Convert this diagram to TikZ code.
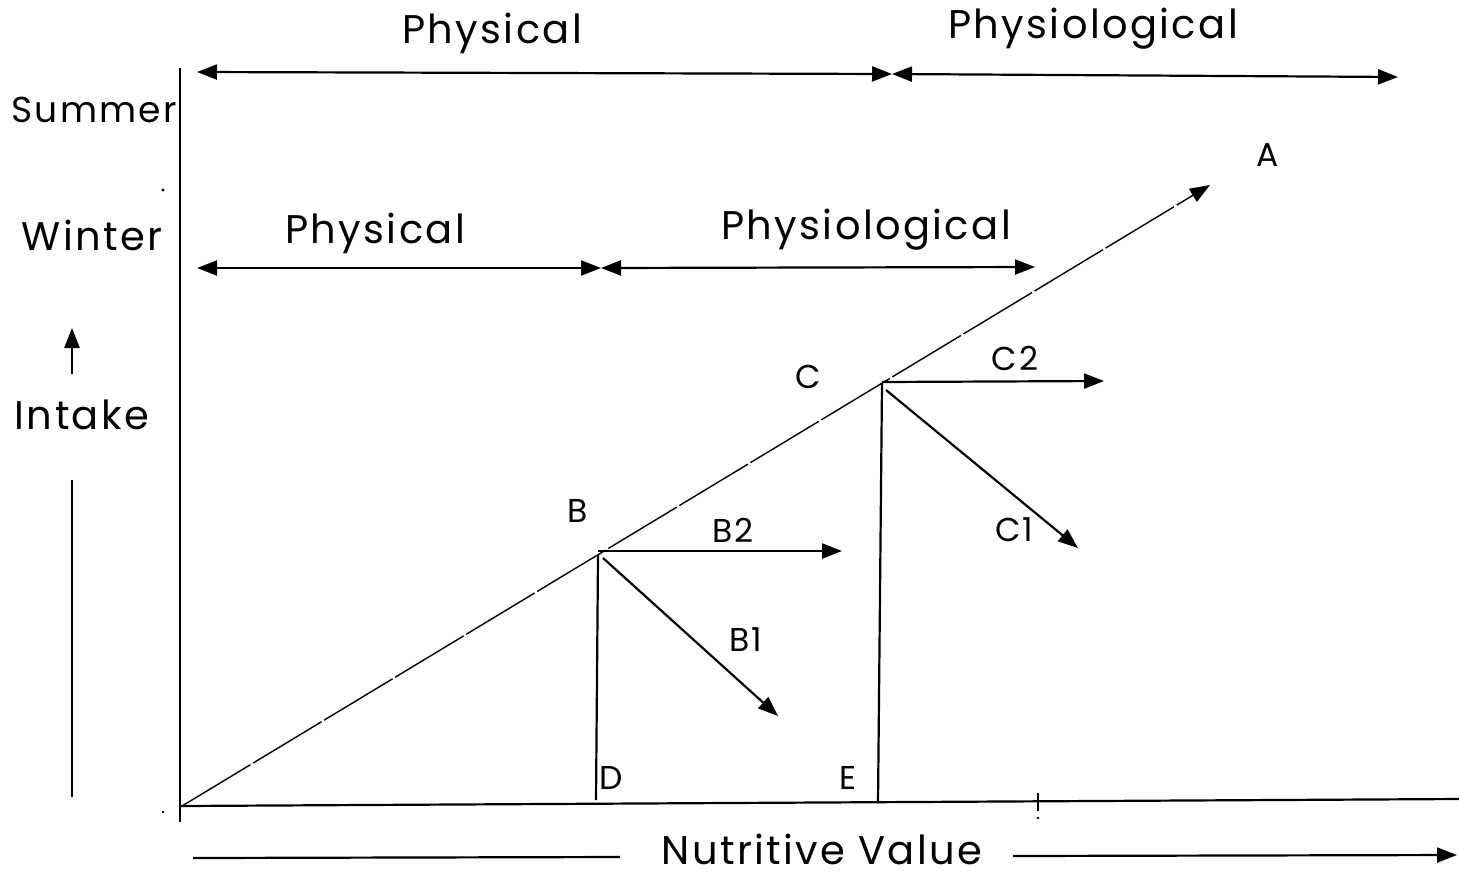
\documentclass[tikz,border=0pt]{standalone}
\usepackage{fontspec}
\setmainfont{Poppins}[LetterSpace=6]
\usetikzlibrary{arrows.meta}
\begin{document}
\begin{tikzpicture}[x=0.5pt,y=-0.5pt,
  ln/.style={line width=1.1pt,black},
  thin/.style={line width=0.7pt,black},
  tip/.tip={Triangle[length=10pt,width=7.5pt]},
  arr/.style={ln,-tip},
  darr/.style={ln,tip-tip},
  word/.style={font=\fontsize{20}{24}\selectfont,inner sep=0pt},
  lab/.style={font=\fontsize{16.5}{20}\selectfont,inner sep=0pt}]
\useasboundingbox (0,0) rectangle (1459,873);
% coordinates
\coordinate (O) at (182,806);
\coordinate (Atip) at (1210,185);
\coordinate (Bp) at (598,555);
\coordinate (Cp) at (882,383);
\coordinate (Dp) at (596,800);
\coordinate (Ep) at (878,803);
\coordinate (B2e) at (842,551);
\coordinate (B1e) at (778,716);
\coordinate (C2e) at (1104,381);
\coordinate (C1e) at (1078,548);
\coordinate (SL) at (197,72);
\coordinate (SM) at (892,74);
\coordinate (SR) at (1398,77);
\coordinate (WL) at (197,268);
\coordinate (WM) at (601,268);
\coordinate (WR) at (1035,267);
\coordinate (Ytop) at (180,68);
\coordinate (Ybot) at (180,822);
\coordinate (Xl) at (180,806);
\coordinate (Xr) at (1459,799);
\coordinate (Iup0) at (72,374);
\coordinate (Iup1) at (72,328);
\coordinate (Iln0) at (72,480);
\coordinate (Iln1) at (72,797);
\coordinate (N0) at (193,858);
\coordinate (N1) at (620,857);
\coordinate (N2) at (1013,856);
\coordinate (N3) at (1457,855);
\coordinate (T0) at (1038,793);
\coordinate (T1) at (1038,811);
% axes
\draw[ln] (Ytop) -- (Ybot);
\draw[ln] (Xl) -- (Xr);
\draw[ln] (T0) -- (T1);
\fill (1038,818) circle (1.4);
\fill (163,190) circle (1.6);
\fill (163,812) circle (1.4);
% texts
\node[word] (phys1) at (492,33) {Physical};
\node[word] (physio1) at (1093,29) {Physiological};
\node[word,font=\fontsize{18}{22}\selectfont] (summer) at (94,110) {Summer};
\node[word] (winter) at (92,235) {Winter};
\node[word] (phys2) at (375,233) {Physical};
\node[word] (physio2) at (866,230) {Physiological};
\node[word] (intake) at (82,415) {Intake};
\node[word] (nutr) at (822,849) {Nutritive Value};
\node[lab] (lA) at (1268,155) {A};
\node[lab] (lB) at (578,511) {B};
\node[lab] (lC) at (808,377) {C};
\node[lab] (lD) at (611,778) {D};
\node[lab] (lE) at (848,778) {E};
\node[lab] (lB2) at (733,530) {B2};
\node[lab] (lB1) at (746,640) {B1};
\node[lab] (lC2) at (1015,358) {C2};
\node[lab] (lC1) at (1014,530) {C1};
% range arrows
\draw[darr] (SL) -- (SM);
\draw[darr] (SM) -- (SR);
\draw[darr] (WL) -- (WM);
\draw[darr] (WM) -- (WR);
% diagonal
\draw[thin,dash pattern=on 40pt off 1.5pt,-tip] (O) -- (Atip);
% verticals and branches
\draw[ln] (Bp) -- (Dp);
\draw[ln] (Cp) -- (Ep);
\draw[arr] (598,551) -- (B2e);
\draw[arr] (603,558) -- (B1e);
\draw[arr] (882,382) -- (C2e);
\draw[arr] (886,390) -- (C1e);
% intake
\draw[arr,line width=1.4pt] (Iup0) -- (Iup1);
\draw[ln] (Iln0) -- (Iln1);
% nutritive value
\draw[ln] (N0) -- (N1);
\draw[arr] (N2) -- (N3);
\end{tikzpicture}
\end{document}
